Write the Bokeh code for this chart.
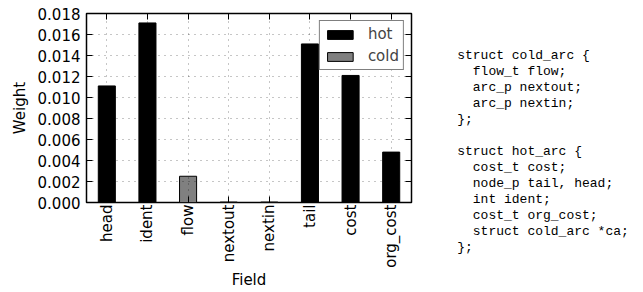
import math
from bokeh.plotting import figure
from bokeh.models import (ColumnDataSource, FactorRange, Range1d, FixedTicker,
                          NumeralTickFormatter, LinearAxis)
from bokeh.layouts import row
from bokeh.core.properties import value
from bokeh.embed import file_html
from bokeh.resources import INLINE

# ---- data ----
fields = ["head", "ident", "flow", "nextout", "nextin", "tail", "cost", "org_cost"]
hot_fields = ["head", "ident", "tail", "cost", "org_cost"]
hot_values = [0.0111, 0.0171, 0.0151, 0.0121, 0.0048]
cold_fields = ["flow", "nextout", "nextin"]
cold_values = [0.0025, 0.00004, 0.00004]
y_ticks = [0.0, 0.002, 0.004, 0.006, 0.008, 0.010, 0.012, 0.014, 0.016, 0.018]
code_lines = [
    "struct cold_arc {",
    "  flow_t flow;",
    "  arc_p nextout;",
    "  arc_p nextin;",
    "};",
    "",
    "struct hot_arc {",
    "  cost_t cost;",
    "  node_p tail, head;",
    "  int ident;",
    "  cost_t org_cost;",
    "  struct cold_arc *ca;",
    "};",
]

FONT = "DejaVu Sans"
H = 291

p = figure(width=430, height=H,
           x_range=FactorRange(factors=fields, range_padding=0),
           y_range=Range1d(0, 0.018),
           output_backend="svg", toolbar_location=None,
           min_border_left=86, min_border_right=19,
           min_border_top=13, min_border_bottom=H - 205)
p.frame_align = False

hot_src = ColumnDataSource(dict(field=hot_fields, value=hot_values))
cold_src = ColumnDataSource(dict(field=cold_fields, value=cold_values))
p.vbar(x="field", top="value", width=0.42, source=hot_src,
       fill_color="black", line_color="black", line_width=1, legend_label="hot")
p.vbar(x="field", top="value", width=0.42, source=cold_src,
       fill_color="#808080", line_color="black", line_width=1, legend_label="cold")

p.outline_line_color = "black"
p.outline_line_width = 1.5

ya = p.yaxis[0]
ya.ticker = FixedTicker(ticks=y_ticks)
ya.formatter = NumeralTickFormatter(format="0.000")
ya.axis_label = "Weight"
xa = p.xaxis[0]
xa.axis_label = "Field"
xa.major_label_orientation = math.pi / 2
for ax in (ya, xa):
    ax.major_tick_in = 6
    ax.major_tick_out = 0
    ax.minor_tick_line_color = None
    ax.axis_line_color = None
    ax.major_label_text_font = FONT
    ax.major_label_text_font_size = "15px"
    ax.major_label_text_color = "black"
    ax.axis_label_text_font = FONT
    ax.axis_label_text_font_size = "15px"
    ax.axis_label_text_font_style = "normal"
    ax.axis_label_text_color = "black"
    ax.major_tick_line_color = "black"
ya.major_label_standoff = 6
ya.axis_label_standoff = 6
xa.major_label_standoff = 2
xa.axis_label_standoff = 0

# right and top axes: tick marks only (drawn as minor ticks, so no labels)
ra = LinearAxis(ticker=FixedTicker(ticks=[], minor_ticks=y_ticks),
                minor_tick_in=6, minor_tick_out=0, minor_tick_line_color="black",
                major_tick_line_color=None, axis_line_color=None,
                major_label_standoff=0)
p.add_layout(ra, "right")
ta = LinearAxis(ticker=FixedTicker(ticks=[], minor_ticks=[i + 0.5 for i in range(len(fields))]),
                minor_tick_in=6, minor_tick_out=0, minor_tick_line_color="black",
                major_tick_line_color=None, axis_line_color=None,
                major_label_standoff=0)
p.add_layout(ta, "above")

for g in (p.xgrid[0], p.ygrid[0]):
    g.grid_line_color = "black"
    g.grid_line_alpha = 0.45
    g.grid_line_dash = "1 5"
    g.grid_line_width = 1
    g.level = "guide"
p.ygrid[0].ticker = FixedTicker(ticks=y_ticks)

lg = p.legend[0]
lg.location = "top_right"
lg.margin = 7
lg.padding = 4
lg.spacing = 4
lg.glyph_width = 32
lg.glyph_height = 11
lg.label_standoff = 12
lg.label_text_font = FONT
lg.label_text_font_size = "15px"
lg.border_line_color = "black"
lg.border_line_width = 1.5
lg.background_fill_alpha = 1

# ---- code listing panel ----
cw = 212
c = figure(width=cw, height=H, x_range=Range1d(0, cw), y_range=Range1d(H, 0),
           x_axis_type=None, y_axis_type=None,
           output_backend="svg", toolbar_location=None, min_border=0)
c.frame_align = False
c.grid.visible = False
c.outline_line_color = None
indent = [len(s) - len(s.lstrip(" ")) for s in code_lines]
c.text(x=[26.7 + 7.8 * k for k in indent],
       y=[55 + 16.02 * i for i in range(len(code_lines))],
       text=[s.strip() for s in code_lines],
       text_font=value("Liberation Mono"), text_font_size="13px",
       text_baseline="middle", text_align="left", text_color="black")

layout = row(p, c)
open("out.html", "w").write(file_html(layout, INLINE))
